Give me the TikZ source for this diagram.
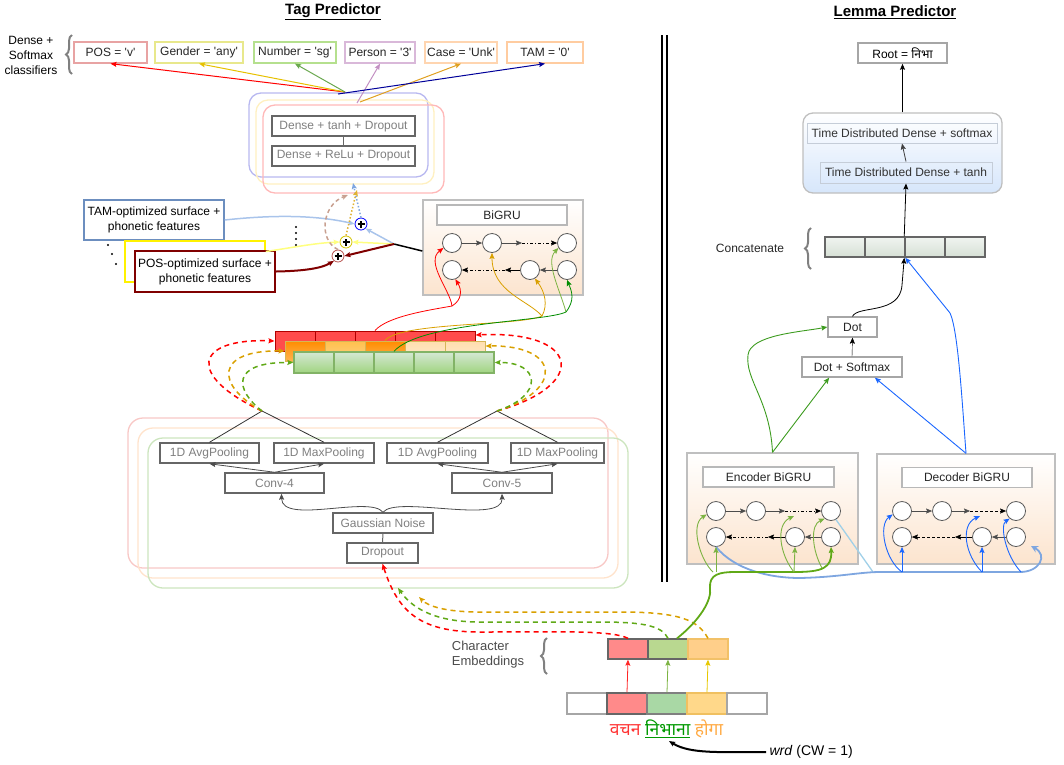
\documentclass[tikz,border=0pt]{standalone}
\usepackage{fontspec}
\setmainfont{Liberation Sans}
\newfontfamily\deva[Script=Devanagari]{Noto Sans}
\usetikzlibrary{arrows.meta,decorations.pathreplacing,calc}
\newcommand{\myqs}{\textquotesingle}
\definecolor{gline}{HTML}{666666}
\definecolor{gtxt}{HTML}{808080}
\definecolor{peach}{HTML}{FCE4CE}
\definecolor{dred}{HTML}{800000}
\definecolor{lblue}{HTML}{A9C4EB}
\definecolor{lyel}{HTML}{FFFF80}
\definecolor{dorange}{HTML}{D9A000}
\definecolor{dgreen}{HTML}{60A917}
\definecolor{dgreen2}{HTML}{3C9B1E}
\definecolor{lgreen}{HTML}{7CB342}
\definecolor{mblue}{HTML}{1A66FF}
\definecolor{bblue}{HTML}{7EA6E0}
\definecolor{sky}{HTML}{A0D0E8}
\definecolor{tdblue}{HTML}{D6E6FB}
\definecolor{cPOS}{HTML}{E8A3A3}
\definecolor{cGen}{HTML}{E8E88C}
\definecolor{cNum}{HTML}{B5E08E}
\definecolor{cPer}{HTML}{D9B8D9}
\definecolor{cCase}{HTML}{FFD5B0}
\definecolor{cTAM}{HTML}{FFCCA0}
\definecolor{cgold}{HTML}{E6C000}
\definecolor{cnumg}{HTML}{6AA84F}
\definecolor{cpurp}{HTML}{C390C3}
\definecolor{ccaseo}{HTML}{E0A020}
\definecolor{cnavy}{HTML}{000099}
\definecolor{cyel2}{HTML}{E6C800}
\definecolor{tamb}{HTML}{6C8EBF}
\definecolor{pyel}{HTML}{D4C400}
\definecolor{pred}{HTML}{B85450}
\definecolor{rosy}{HTML}{C8A090}
\definecolor{rbl}{HTML}{B8B8F0}
\definecolor{ryl}{HTML}{FFF0C0}
\definecolor{rrd}{HTML}{FFB8B8}
\definecolor{cvr}{HTML}{F8C8C6}
\definecolor{cvp}{HTML}{FFE3CC}
\definecolor{cvg}{HTML}{CCE5BE}
\definecolor{embr}{HTML}{FF8A8A}
\definecolor{embg}{HTML}{B9D890}
\definecolor{embo}{HTML}{FFCF8A}
\definecolor{embob}{HTML}{F2C168}
\definecolor{inpg}{HTML}{A9D8A5}
\definecolor{inpo}{HTML}{FFD88A}
\definecolor{inpob}{HTML}{F0C060}
\definecolor{wred}{HTML}{FF3333}
\definecolor{wgreen}{HTML}{009900}
\definecolor{worange}{HTML}{FFAA44}
\definecolor{ocb}{HTML}{D6B656}
\definecolor{oc1t}{HTML}{FF8C00}
\definecolor{oc1b}{HTML}{FFB450}
\definecolor{oc2t}{HTML}{FFC04D}
\definecolor{oc2b}{HTML}{FFD282}
\definecolor{oc4t}{HTML}{FFDEAF}
\definecolor{oc4b}{HTML}{FFEBCD}
\definecolor{gcb}{HTML}{82B366}
\definecolor{gct}{HTML}{D5E8D4}
\definecolor{gcbt}{HTML}{A0D480}
\definecolor{cct}{HTML}{F0F4F0}
\definecolor{ccb}{HTML}{D6E0D5}
\definecolor{tdin}{HTML}{C5CDD8}
\begin{document}
\begin{tikzpicture}[x=1pt,y=-1pt,
  every node/.style={font=\fontsize{12}{14}\selectfont},
  harrow/.style={-{Stealth[length=6pt,width=5pt,inset=1pt]}},
  dsh/.style={dash pattern=on 5pt off 4pt, line width=1.5pt},
  ddot/.style={dash pattern=on 3pt off 2pt on 1pt off 2pt},
  gbox/.style={draw=gline, line width=1.5pt, text=gtxt, fill=white, inner sep=0pt, minimum height=20pt},
  cbox/.style={draw=#1, line width=1.3pt, fill=white, text=black!85, inner sep=0pt, minimum height=21pt},
  lbox/.style={draw=black!28, line width=1.3pt, fill=white, text=black!85, inner sep=0pt, minimum height=20pt},
  rnn/.style={circle, draw=black!65, fill=white, line width=0.8pt, minimum size=19pt, inner sep=0pt},
  gru/.style={draw=black!25, line width=1.3pt, top color=white, bottom color=peach, inner sep=0pt},
  brc/.style={decorate, decoration={brace, amplitude=6pt}, draw=gray, line width=2pt},
  plus/.style={circle, draw=#1, fill=white, line width=0.8pt, minimum size=12pt, inner sep=0pt,
    path picture={\draw[line width=1.5pt,black] ($(path picture bounding box.center)+(-3.5pt,0)$) -- ($(path picture bounding box.center)+(3.5pt,0)$) ($(path picture bounding box.center)+(0,-3.5pt)$) -- ($(path picture bounding box.center)+(0,3.5pt)$);}},
  rcell/.style={draw=red!70!black, line width=1pt, fill=red!70!white, minimum width=40pt, minimum height=20pt, inner sep=0pt},
  ocell/.style={draw=ocb, line width=1pt, minimum width=40pt, minimum height=20pt, inner sep=0pt},
  gcell/.style={draw=gcb, line width=1.3pt, top color=gct, bottom color=gcbt, minimum width=40pt, minimum height=21pt, inner sep=0pt},
  ecell/.style={draw=black!60, line width=1.3pt, minimum width=40pt, minimum height=20pt, inner sep=0pt},
  icell/.style={draw=black!35, line width=1.3pt, fill=white, minimum width=40pt, minimum height=21pt, inner sep=0pt},
  ccell/.style={draw=gline, line width=1.5pt, top color=cct, bottom color=ccb, minimum width=40pt, minimum height=20pt, inner sep=0pt},
  abox/.style={draw=black!35, line width=1.3pt, fill=white, text=black!85, minimum height=20pt, inner sep=0pt}
]
\useasboundingbox (0,0) rectangle (1064,764);

% ---------- titles and separator
\node[font=\bfseries\fontsize{15}{18}\selectfont] (ttag) at (333,12) {\underline{Tag Predictor}};
\node[font=\bfseries\fontsize{15}{18}\selectfont] (tlem) at (895,12) {\underline{Lemma Predictor}};
\draw[line width=1.5pt] (662,35) -- (662,582);
\draw[line width=1.5pt] (667,35) -- (667,582);

% ---------- classifiers
\node[cbox=cPOS, minimum width=73pt] (pos) at (110.5,52.5) {POS = \myqs v\myqs};
\node[cbox=cGen, minimum width=88pt] (gen) at (199,52.5) {Gender = \myqs any\myqs};
\node[cbox=cNum, minimum width=82pt] (num) at (295,52.5) {Number = \myqs sg\myqs};
\node[cbox=cPer, minimum width=70pt] (per) at (380,52.5) {Person = \myqs 3\myqs};
\node[cbox=cCase, minimum width=72pt] (cas) at (461,52.5) {Case = \myqs Unk\myqs};
\node[cbox=cTAM, minimum width=76pt] (tam) at (545,52.5) {TAM = \myqs 0\myqs};
\node[align=center, font=\fontsize{12}{15}\selectfont] (dsc) at (31,55) {Dense +\\Softmax\\classifiers};
\draw[brc] (72,74) -- (72,35);

% ---------- dense block
\draw[rbl, line width=1.3pt, rounded corners=12pt] (249,93) rectangle (428,177);
\draw[ryl, line width=1.3pt, rounded corners=12pt] (256,100) rectangle (434,184);
\draw[rrd, line width=1.3pt, rounded corners=12pt] (263,105) rectangle (444,193);
\node[gbox, minimum width=143pt] (dtanh) at (343.5,126) {Dense + tanh + Dropout};
\node[gbox, minimum width=143pt] (drelu) at (343.5,156) {Dense + ReLu + Dropout};
\draw[gline, line width=1pt] (dtanh) -- (drelu);

\coordinate (cv) at (345,92);
\coordinate (cvb) at (338,94);
\coordinate (cvp) at (357,103);
\coordinate (cvo) at (360,102);
\draw[harrow, red, line width=1pt] (cv) -- (pos.south);
\draw[harrow, cgold, line width=1pt] (cv) -- (gen.south);
\draw[harrow, cnumg, line width=1pt] (cv) -- (num.south);
\draw[harrow, cpurp, line width=1pt] (cvp) -- (per.south);
\draw[harrow, ccaseo, line width=1pt] (cvo) -- (cas.south);
\draw[harrow, cnavy, line width=1pt] (cvb) -- (tam.south);

% ---------- tag BiGRU
\node[gru, minimum width=160pt, minimum height=95pt] (bigru) at (503,247.5) {};
\node[lbox, minimum width=130pt] (bigrul) at (502,215) {BiGRU};
\node[rnn] (b1) at (452,243) {};
\node[rnn] (b2) at (492,243) {};
\node[rnn] (b3) at (567,243) {};
\node[rnn] (b4) at (452,270) {};
\node[rnn] (b5) at (530,270) {};
\node[rnn] (b6) at (567,270) {};
\coordinate (bm1) at (522,243);
\coordinate (bm2) at (505,270);
\draw[harrow, black!70] (b1) -- (b2);
\draw[harrow, black!70] (b2) -- (bm1);
\draw[harrow, ddot] (bm1) -- (b3);
\draw[harrow, black!70] (b6) -- (b5);
\draw[harrow] (b5) -- (bm2);
\draw[harrow, ddot] (bm2) -- (b4);

% ---------- plus circles and feature boxes
\node[draw=tamb, line width=1.5pt, fill=white, minimum width=140pt, minimum height=40pt, align=center, inner sep=0pt, font=\fontsize{12}{15}\selectfont] (tamf) at (154,220) {TAM-optimized surface +\\phonetic features};
\node[draw=yellow, line width=1.5pt, fill=white, minimum width=140pt, minimum height=41pt, inner sep=0pt] (yelf) at (195,261.5) {};
\node[draw=dred, line width=2pt, fill=white, minimum width=140pt, minimum height=41pt, align=center, inner sep=0pt, font=\fontsize{12}{15}\selectfont] (posf) at (205,271.5) {POS-optimized surface +\\phonetic features};
\foreach \yy in {227,233,239,245} \fill (296,\yy) circle (1.1pt);
\fill (108,245) circle (1.1pt);
\fill (112,254) circle (1.1pt);
\fill (116,264) circle (1.1pt);

\node[plus=blue] (pB) at (361,224) {};
\node[plus=pyel] (pY) at (346,242) {};
\node[plus=pred] (pR) at (338,256) {};
\coordinate (jn) at (394,244);
\draw[harrow, lblue, line width=1.5pt] (tamf.east) .. controls (280,214) and (320,216) .. (pB.west);
\draw[harrow, lyel, line width=1.5pt] ([yshift=10pt]yelf.east) .. controls (290,248) and (315,243) .. (pY.west);
\draw[harrow, dred, line width=2pt] (posf.east) .. controls (305,271) and (322,268) .. (pR.230);
\draw[line width=1.5pt] ([yshift=-3.5pt]bigru.west) -- (jn);
\draw[harrow, lblue, line width=1.5pt] (jn) -- (pB.-45);
\draw[harrow, lyel, line width=1.5pt] (jn) -- (pY.east);
\draw[harrow, dred, line width=2pt] (jn) -- (pR.east);
\coordinate (dB) at (353,183);
\coordinate (dY) at (357,190);
\coordinate (dR) at (348,195);
\draw[harrow, bblue, line width=1.5pt, dotted] (pB.north) .. controls (358,205) .. (dB);
\draw[harrow, dorange!80, line width=1.5pt, dotted] (pY.north) .. controls (350,215) .. (dY);
\draw[harrow, rosy, line width=1.5pt, dash pattern=on 4pt off 3pt] (pR.north) .. controls (318,240) and (322,205) .. (dR);

% ---------- stacked feature bars
\foreach \i in {1,...,5} \node[rcell] (r\i) at ({255+40*\i},341) {};
\node[ocell, top color=oc1t, bottom color=oc1b] (o1) at (305,351) {};
\node[ocell, top color=oc2t, bottom color=oc2b] (o2) at (345,351) {};
\node[ocell, top color=oc1t, bottom color=oc1b] (o3) at (385,351) {};
\node[ocell, top color=oc4t, bottom color=oc4b] (o4) at (425,351) {};
\node[ocell, top color=oc4t, bottom color=oc4b] (o5) at (465,351) {};
\foreach \i in {1,...,5} \node[gcell] (g\i) at ({274+40*\i},362.5) {};

\coordinate (rj) at (452,306);
\coordinate (oj) at (542,316);
\coordinate (gj) at (566,312);
\draw[red, line width=0.8pt] (r3.north) .. controls (388,316) and (430,310) .. (rj);
\draw[harrow, red, line width=0.8pt] (rj) .. controls (450,290) and (425,262) .. (b1.210);
\draw[harrow, red, line width=0.8pt] (rj) .. controls (462,300) and (462,290) .. (b4.-70);
\draw[dorange, line width=0.8pt] (o3.north) .. controls (400,322) and (520,326) .. (oj);
\draw[harrow, dorange, line width=0.8pt] (oj) .. controls (528,300) and (492,292) .. (b2.south);
\draw[harrow, dorange, line width=0.8pt] (oj) .. controls (548,305) and (545,292) .. (b5.-60);
\draw[green!55!black, line width=0.8pt] (g3.north) .. controls (420,322) and (545,322) .. (gj);
\draw[harrow, lgreen, line width=0.8pt] (gj) .. controls (560,290) and (545,262) .. (b3.210);
\draw[harrow, green!55!black, line width=0.8pt] (gj) .. controls (575,300) and (572,292) .. (b6.south);

% ---------- conv block
\draw[cvr, line width=1.3pt, rounded corners=15pt] (128,418) rectangle (608,568);
\draw[cvp, line width=1.3pt, rounded corners=15pt] (138,428) rectangle (618,578);
\draw[cvg, line width=1.3pt, rounded corners=15pt] (148,438) rectangle (628,588);
\node[gbox, minimum width=99pt] (avgL) at (209.5,453) {1D AvgPooling};
\node[gbox, minimum width=100pt] (maxL) at (324,453) {1D MaxPooling};
\node[gbox, minimum width=101pt] (avgR) at (437.5,453) {1D AvgPooling};
\node[gbox, minimum width=93pt] (maxR) at (557.5,453) {1D MaxPooling};
\node[gbox, minimum width=99pt] (conv4) at (274.5,483) {Conv-4};
\node[gbox, minimum width=100pt] (conv5) at (502,483) {Conv-5};
\node[gbox, minimum width=100pt] (gauss) at (383,523) {Gaussian Noise};
\node[gbox, minimum width=71pt] (drop) at (382.5,553) {Dropout};
\coordinate (apL) at (262,411);
\coordinate (apR) at (497,411);
\draw[black!80, line width=0.8pt] (avgL.north) -- (apL) -- (maxL.north);
\draw[black!80, line width=0.8pt] (avgR.north) -- (apR) -- (maxR.north);
\draw[harrow, black!70, line width=0.8pt] (conv4.north) -- (avgL.south);
\draw[harrow, black!70, line width=0.8pt] (conv4.north) -- (maxL.south);
\draw[harrow, black!70, line width=0.8pt] (conv5.north) -- (avgR.south);
\draw[harrow, black!70, line width=0.8pt] (conv5.north) -- (maxR.south);
\draw[harrow, black!70, line width=0.8pt] (gauss.north) .. controls (370,495) and (282,525) .. ([xshift=7pt]conv4.south);
\draw[harrow, black!70, line width=0.8pt] (gauss.north) .. controls (396,495) and (503,525) .. (conv5.south);
\draw[gline, line width=1pt] (gauss.south) -- (drop.north);

% dashed loops to the bars
\draw[harrow, dsh, red] (apL) .. controls (185,375) and (195,338) .. (r1.west);
\draw[harrow, dsh, dorange] (apL) .. controls (215,385) and (215,350) .. (o1.west);
\draw[harrow, dsh, dgreen] (apL) .. controls (235,390) and (230,362) .. (g1.west);
\draw[harrow, dsh, red] (apR) .. controls (590,385) and (580,330) .. ([yshift=6pt]r5.east);
\draw[harrow, dsh, dorange] (apR) .. controls (565,390) and (560,345) .. ([yshift=5pt]o5.east);
\draw[harrow, dsh, dgreen] (apR) .. controls (545,395) and (540,362) .. (g5.east);

% ---------- character embeddings and input
\node[ecell, fill=embr] (e1) at (628,649) {};
\node[ecell, fill=embg] (e2) at (668,649) {};
\node[ecell, fill=embo, draw=embob] (e3) at (708,649) {};
\node[icell] (i1) at (587,703.5) {};
\node[icell, fill=embr, draw=black!60] (i2) at (627,703.5) {};
\node[icell, fill=inpg, draw=black!50] (i3) at (667,703.5) {};
\node[icell, fill=inpo, draw=inpob] (i4) at (707,703.5) {};
\node[icell] (i5) at (747,703.5) {};
\draw[harrow, red!85, line width=0.8pt] (i2.north) -- (e1.south);
\draw[harrow, lgreen, line width=0.8pt] (i3.north) -- (e2.south);
\draw[harrow, cyel2, line width=0.8pt] (i4.north) -- (e3.south);
\node[align=left, text=black!70, font=\fontsize{13}{15}\selectfont] (cel) at (488,655) {Character\\Embeddings};
\draw[brc] (547,674) -- (547,638);
\node[font=\deva\fontsize{17.5}{20}\selectfont] (words) at (666.5,729) {\textcolor{wred}{वचन} \textcolor{wgreen}{\bfseries\underline{निभाना}} \textcolor{worange}{होगा}};
\node[anchor=west, font=\fontsize{14}{16}\selectfont] (wrd) at (766,752) {\textit{wrd} (CW = 1)};
\coordinate (wt) at (669,741);
\draw[harrow, line width=2pt] (wrd.west) .. controls (720,752) and (690,754) .. (wt);

\coordinate (gtip) at (398,588);
\coordinate (otip) at (419,597);
\draw[harrow, dsh, red] (e1.north) .. controls (612,630) and (560,632) .. (480,632) .. controls (420,632) and (398,612) .. (drop.south);
\draw[harrow, dsh, dgreen] (e2.north) .. controls (662,625) and (640,622) .. (600,622) -- (480,622) .. controls (430,622) and (410,605) .. (gtip);
\draw[harrow, dsh, dorange] (e3.north) .. controls (698,620) and (680,612) .. (620,612) -- (480,612) .. controls (445,612) and (428,606) .. (otip);

% ---------- encoder / decoder
\node[gru, minimum width=171pt, minimum height=111pt] (enc) at (772.5,508.5) {};
\node[lbox, minimum width=131pt] (encl) at (768.5,477) {Encoder BiGRU};
\node[rnn] (ea1) at (716,511) {};
\node[rnn] (ea2) at (756,511) {};
\node[rnn] (ea3) at (831,511) {};
\node[rnn] (eb1) at (716,537) {};
\node[rnn] (eb2) at (795,537) {};
\node[rnn] (eb3) at (831,537) {};
\coordinate (em1) at (785,511);
\coordinate (em2) at (768,537);
\draw[harrow, black!70] (ea1) -- (ea2);
\draw[harrow, black!70] (ea2) -- (em1);
\draw[harrow, ddot] (em1) -- (ea3);
\draw[harrow, black!70] (eb3) -- (eb2);
\draw[harrow] (eb2) -- (em2);
\draw[harrow, ddot] (em2) -- (eb1);

\node[gru, minimum width=178pt, minimum height=110pt] (dec) at (966,509) {};
\node[lbox, minimum width=130pt] (decl) at (967,477.5) {Decoder BiGRU};
\node[rnn] (da1) at (902,511) {};
\node[rnn] (da2) at (942,511) {};
\node[rnn] (da3) at (1016,511) {};
\node[rnn] (db1) at (902,537) {};
\node[rnn] (db2) at (982,537) {};
\node[rnn] (db3) at (1016,537) {};
\coordinate (dm1) at (970,511);
\coordinate (dm2) at (955,537);
\draw[harrow, black!70] (da1) -- (da2);
\draw[harrow, black!70] (da2) -- (dm1);
\draw[harrow, dash pattern=on 3pt off 2pt] (dm1) -- (da3);
\draw[harrow, black!70] (db3) -- (db2);
\draw[harrow] (db2) -- (dm2);
\draw[harrow, dash pattern=on 3pt off 2pt] (dm2) -- (db1);

% light blue feedback line
\coordinate (blt) at (1031,546);
\coordinate (sk) at (873,572);
\draw[sky, line width=1.3pt] (ea3.-60) -- (sk);
\draw[-{Stealth[open,length=7pt,width=7pt]}, bblue, line width=1.8pt] (eb1.south) .. controls (735,570) and (770,578) .. (800,578) .. controls (840,577) and (860,572) .. (880,572) -- (1020,572) .. controls (1040,572) and (1048,555) .. (blt);

% decoder inputs
\coordinate (bA) at (902,572);
\coordinate (bB) at (982,572);
\coordinate (bC) at (980,516);
\coordinate (bD) at (1021,572);
\draw[harrow, mblue, line width=0.9pt] (bA) -- (db1.south);
\draw[harrow, mblue, line width=0.9pt] (bA) .. controls (885,560) and (878,525) .. (da1.200);
\draw[harrow, mblue, line width=0.9pt] (bB) -- (db2.south);
\draw[harrow, mblue, line width=0.9pt] (bB) .. controls (965,555) and (960,525) .. (bC);
\draw[harrow, mblue, line width=0.9pt] (bD) .. controls (1005,555) and (1000,525) .. (da3.230);

% encoder inputs
\draw[harrow, dgreen, line width=1.8pt] ([xshift=9pt]e2.north) .. controls (700,620) and (712,600) .. (710,588) .. controls (709,574) and (720,572) .. (735,572) -- (795,572) .. controls (822,572) and (832,568) .. (eb3.south);
\coordinate (gA) at (716,572);
\coordinate (gA2) at (713,572);
\coordinate (gB) at (794,572);
\coordinate (gC) at (794,516);
\coordinate (gD) at (822,568);
\draw[harrow, lgreen, line width=0.9pt] (gA) -- (eb1.south);
\draw[harrow, lgreen, line width=0.9pt] (gA2) .. controls (700,560) and (690,525) .. (ea1.200);
\draw[harrow, lgreen, line width=0.9pt] (gB) -- (eb2.south);
\draw[harrow, lgreen, line width=0.9pt] (gB) .. controls (780,555) and (775,525) .. (gC);
\draw[harrow, lgreen, line width=0.9pt] (gD) .. controls (812,550) and (810,525) .. (ea3.230);

% ---------- attention and output
\node[abox, minimum width=49pt] (dot) at (852.5,327) {Dot};
\node[abox, minimum width=100pt] (dotsm) at (852,367) {Dot + Softmax};
\draw[harrow] (dotsm.north) -- (dot.south);
\foreach \i/\x in {1/845,2/885,3/925,4/965} \node[ccell] (c\i) at (\x,247) {};
\node[text=black!85] (catl) at (750,248) {Concatenate};
\draw[brc] (811,269) -- (811,228);
\draw[harrow, dgreen2, line width=0.9pt] (enc.north) -- (dotsm.-155);
\draw[harrow, dgreen2, line width=0.9pt] (enc.north) .. controls (770,400) and (745,380) .. (748,355) .. controls (750,335) and (800,332) .. (dot.west);
\draw[harrow, mblue, line width=0.9pt] (dec.north) -- (dotsm.-25);
\draw[harrow, mblue, line width=0.9pt] (dec.north) .. controls (962,400) and (958,330) .. (950,313) -- ([xshift=1pt]c3.south west);
\draw[harrow, line width=0.8pt] (dot.north) .. controls (858,305) and (900,315) .. (902,285) -- (c3.south west);

\node[draw=black!25, line width=1.3pt, rounded corners=10pt, top color=white, bottom color=tdblue, minimum width=199pt, minimum height=80pt, inner sep=0pt] (tdb) at (902.5,153) {};
\node[draw=tdin, line width=1pt, text=black!80, minimum width=190pt, minimum height=20pt, inner sep=0pt] (tdsm) at (902,133) {Time Distributed Dense + softmax};
\node[draw=tdin, line width=1pt, text=black!80, minimum width=172pt, minimum height=21pt, inner sep=0pt] (tdth) at (906,172.5) {Time Distributed Dense + tanh};
\node[draw=black!35, line width=1.5pt, fill=white, minimum width=89pt, minimum height=20pt, inner sep=0pt] (root) at (902.5,53) {Root = {\deva निभा}};
\draw[harrow, line width=0.8pt] (c3.north west) -- (tdth.south);
\draw[harrow, black!75, line width=0.8pt] (tdth.north) -- (tdsm.south);
\draw[harrow, line width=0.8pt] (tdb.north) -- (root.south);
\end{tikzpicture}
\end{document}
